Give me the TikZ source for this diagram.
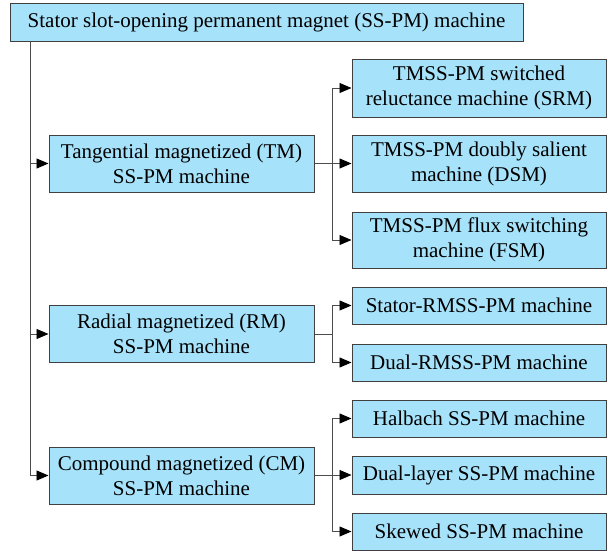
\documentclass[tikz,border=0pt]{standalone}
\usepackage{fontspec}
\setmainfont{Liberation Serif}
\usetikzlibrary{arrows.meta}
\definecolor{boxblue}{RGB}{166,226,250}
\begin{document}
\begin{tikzpicture}[x=1pt,y=-1pt,
		box/.style={draw=black!75,line width=1pt,fill=boxblue,inner sep=0pt,align=center,
			font=\fontsize{21}{25}\selectfont},
		midbox/.style={box,minimum width=265pt,minimum height=57pt},
		subbox/.style={box,minimum width=254pt},
		link/.style={draw=black!70,line width=0.9pt,-{Triangle[length=12pt,width=10pt,color=black]}}]
	\useasboundingbox (0,0) rectangle (608,550);
	\def\xs{479}% centre of the right column
	% top box
	\node[box,minimum width=513pt,minimum height=38pt] (top) at (266.5,22)
	{Stator slot-opening permanent magnet (SS-PM) machine};
	\coordinate (trunk) at (30,41);
	% second level
	\node[midbox] (tm) at (181.5,163.5) {Tangential magnetized (TM)\\SS-PM machine};
	\node[midbox] (rm) at (181.5,334) {Radial magnetized (RM)\\SS-PM machine};
	\node[midbox] (cm) at (181.5,475.5) {Compound magnetized (CM)\\SS-PM machine};
	% third level
	\node[subbox,minimum height=58pt] (srm) at (\xs,88) {TMSS-PM switched\\reluctance machine (SRM)};
	\node[subbox,minimum height=57pt] (dsm) at (\xs,163.5) {TMSS-PM doubly salient\\machine (DSM)};
	\node[subbox,minimum height=56pt] (fsm) at (\xs,240) {TMSS-PM flux switching\\machine (FSM)};
	\node[subbox,minimum height=37pt] (srmss) at (\xs,305.5) {Stator-RMSS-PM machine};
	\node[subbox,minimum height=37pt] (drmss) at (\xs,362.5) {Dual-RMSS-PM machine};
	\node[subbox,minimum height=37pt] (halbach) at (\xs,418.5) {Halbach SS-PM machine};
	\node[subbox,minimum height=38pt] (dual) at (\xs,475) {Dual-layer SS-PM machine};
	\node[subbox,minimum height=37pt] (skewed) at (\xs,531.5) {Skewed SS-PM machine};
	% connectors
	\foreach \m in {tm,rm,cm}
	\draw[link] (trunk) |- (\m.west);
	\foreach \s in {srm,dsm,fsm}
	\draw[link] (tm.east) -- ++(18,0) |- (\s.west);
	\foreach \s in {srmss,drmss}
	\draw[link] (rm.east) -- ++(18,0) |- (\s.west);
	\foreach \s in {halbach,dual,skewed}
	\draw[link] (cm.east) -- ++(18,0) |- (\s.west);
\end{tikzpicture}
\end{document}
